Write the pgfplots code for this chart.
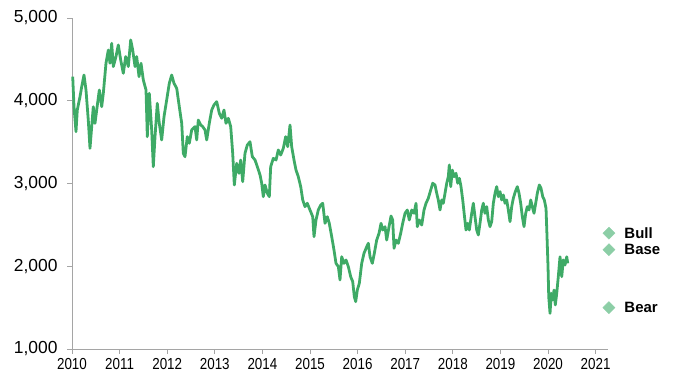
\documentclass[border=0pt]{standalone}
\usepackage{fontspec}
\setmainfont{Liberation Sans}
\usepackage{graphicx}
\usepackage{pgfplots}
\pgfplotsset{compat=1.18}
\usetikzlibrary{calc}
\definecolor{lineg}{RGB}{62,170,102}
\definecolor{markg}{RGB}{140,206,166}
\definecolor{axgray}{RGB}{165,165,165}
\begin{document}
\begin{tikzpicture}
\begin{axis}[
  name=ax,
  scale only axis,
  width=536bp, height=331bp,
  xmin=2010, xmax=2021.26,
  ymin=1000, ymax=5000,
  axis x line*=bottom, axis y line*=left,
  axis line style={axgray, line width=0.8pt},
  tick style={axgray, line width=0.8pt},
  tick align=outside,
  major tick length=5bp,
  xtick={2010,2011,...,2021},
  ytick={1000,2000,3000,4000,5000},
  xticklabel={\scalebox{0.84}[1]{\pgfmathprintnumber[1000 sep={}]{\tick}}},
  xticklabel style={font=\fontsize{16}{18}\selectfont, yshift=-1bp},
  yticklabel style={/pgf/number format/1000 sep={,}, font=\fontsize{17.5}{20}\selectfont, xshift=-6bp},
  /pgf/number format/assume math mode=true,
  clip=false,
]
\addplot[lineg, line width=2.8pt, line join=round] coordinates {
(2010.015,4291)(2010.042,3928)(2010.084,3626)(2010.111,3888)(2010.168,4049)(2010.204,4170)
(2010.252,4311)(2010.294,4130)(2010.342,3767)(2010.378,3425)(2010.414,3687)(2010.447,3928)
(2010.483,3727)(2010.519,3888)(2010.574,4130)(2010.624,3928)(2010.658,4090)(2010.714,4453)
(2010.763,4613)(2010.798,4453)(2010.834,4694)(2010.868,4413)(2010.924,4534)(2010.973,4674)
(2011.023,4493)(2011.078,4332)(2011.128,4534)(2011.183,4413)(2011.233,4734)(2011.275,4613)
(2011.324,4413)(2011.359,4534)(2011.408,4291)(2011.450,4453)(2011.498,4251)(2011.555,4130)
(2011.582,3566)(2011.624,4090)(2011.674,3647)(2011.708,3203)(2011.744,3566)(2011.792,3969)
(2011.834,3727)(2011.884,3526)(2011.933,3807)(2011.989,4009)(2012.044,4211)(2012.094,4311)
(2012.143,4211)(2012.200,4150)(2012.254,3928)(2012.305,3727)(2012.338,3365)(2012.374,3324)
(2012.422,3566)(2012.464,3486)(2012.515,3647)(2012.584,3687)(2012.620,3526)(2012.653,3767)
(2012.704,3707)(2012.746,3687)(2012.794,3647)(2012.830,3526)(2012.884,3727)(2012.935,3888)
(2012.983,3949)(2013.040,3989)(2013.095,3848)(2013.145,3788)(2013.193,3888)(2013.235,3727)
(2013.284,3788)(2013.334,3687)(2013.376,3365)(2013.410,2982)(2013.460,3244)(2013.508,3123)
(2013.544,3284)(2013.586,3022)(2013.634,3365)(2013.683,3465)(2013.739,3505)(2013.788,3324)
(2013.845,3284)(2013.893,3203)(2013.950,3103)(2013.985,3003)(2014.019,2841)(2014.055,2982)
(2014.103,2882)(2014.145,2841)(2014.174,3203)(2014.229,3304)(2014.286,3284)(2014.334,3405)
(2014.384,3344)(2014.439,3425)(2014.489,3566)(2014.532,3445)(2014.580,3707)(2014.615,3445)
(2014.664,3284)(2014.706,3163)(2014.754,3082)(2014.805,2961)(2014.847,2801)(2014.895,2720)
(2014.943,2761)(2014.985,2700)(2015.057,2599)(2015.084,2357)(2015.126,2559)(2015.174,2680)
(2015.225,2740)(2015.267,2761)(2015.315,2519)(2015.363,2599)(2015.405,2519)(2015.456,2357)
(2015.504,2196)(2015.546,2035)(2015.595,1995)(2015.630,1834)(2015.666,2115)(2015.714,2035)
(2015.756,2076)(2015.805,1995)(2015.855,1874)(2015.897,1814)(2015.931,1632)(2015.960,1572)
(2015.994,1713)(2016.036,1794)(2016.086,2035)(2016.134,2156)(2016.191,2236)(2016.225,2277)
(2016.261,2115)(2016.309,2035)(2016.351,2156)(2016.401,2317)(2016.450,2398)(2016.492,2519)
(2016.527,2438)(2016.576,2478)(2016.611,2317)(2016.660,2478)(2016.702,2607)(2016.737,2559)
(2016.765,2217)(2016.807,2317)(2016.855,2277)(2016.905,2398)(2016.947,2519)(2016.996,2640)
(2017.044,2680)(2017.086,2559)(2017.137,2680)(2017.185,2640)(2017.227,2761)(2017.254,2478)
(2017.296,2559)(2017.347,2498)(2017.395,2680)(2017.437,2761)(2017.485,2821)(2017.536,2922)
(2017.578,3003)(2017.626,2982)(2017.662,2882)(2017.695,2801)(2017.731,2680)(2017.767,2801)
(2017.800,2761)(2017.836,2882)(2017.872,3003)(2017.905,3082)(2017.926,3224)(2017.956,2962)
(2017.989,3163)(2018.025,3082)(2018.067,3123)(2018.103,3003)(2018.137,3063)(2018.172,2962)
(2018.208,2801)(2018.242,2619)(2018.277,2438)(2018.313,2519)(2018.347,2438)(2018.397,2640)
(2018.431,2761)(2018.466,2599)(2018.502,2438)(2018.536,2378)(2018.571,2519)(2018.607,2680)
(2018.641,2761)(2018.676,2640)(2018.712,2720)(2018.746,2559)(2018.782,2478)(2018.817,2539)
(2018.851,2761)(2018.887,2882)(2018.922,2962)(2018.956,2841)(2018.992,2902)(2019.027,2801)
(2019.061,2861)(2019.097,2761)(2019.132,2801)(2019.166,2680)(2019.202,2539)(2019.237,2720)
(2019.271,2821)(2019.313,2902)(2019.355,2962)(2019.391,2882)(2019.426,2761)(2019.460,2599)
(2019.496,2478)(2019.531,2640)(2019.565,2720)(2019.601,2680)(2019.637,2801)(2019.670,2720)
(2019.706,2640)(2019.741,2761)(2019.775,2882)(2019.817,2982)(2019.853,2942)(2019.889,2841)
(2019.922,2801)(2019.958,2700)(2019.979,2357)(2020.000,1995)(2020.015,1632)(2020.042,1431)
(2020.069,1673)(2020.099,1592)(2020.126,1713)(2020.153,1532)(2020.183,1673)(2020.216,1874)
(2020.252,2115)(2020.288,1874)(2020.321,2076)(2020.357,2015)(2020.393,2115)(2020.414,2035)
};
\addplot[only marks, mark=square*, mark size=4.3pt, mark options={draw=markg, fill=markg, rotate=45},
  nodes near coords, point meta=explicit symbolic,
  every node near coord/.style={anchor=west, xshift=12bp, font=\bfseries\fontsize{15}{17}\selectfont, text=black}]
  coordinates {
  (2021.28,2400) [Bull]
  (2021.28,2200) [Base]
  (2021.28,1500) [Bear]
};
\end{axis}
\path ($(ax.south west)+(-72bp,-35bp)$) rectangle ($(ax.north east)+(72bp,18bp)$);
\end{tikzpicture}
\end{document}
